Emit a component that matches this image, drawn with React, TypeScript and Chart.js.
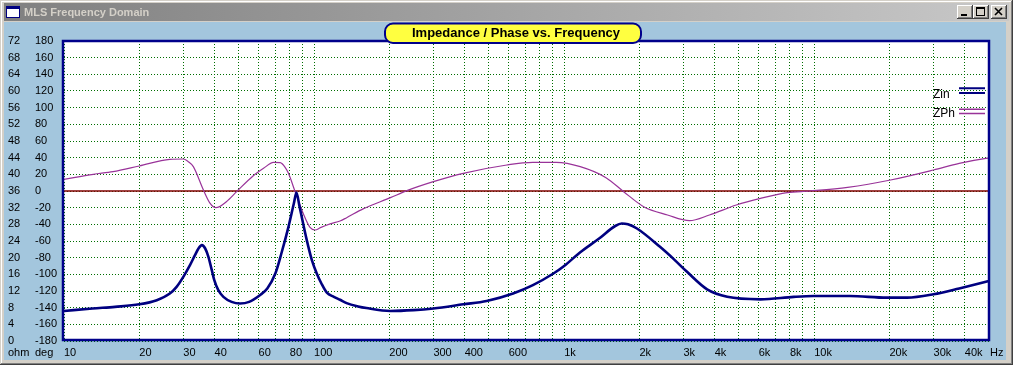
import React, { useEffect, useRef } from 'react';
import { Chart, registerables } from 'chart.js';

Chart.register(...registerables);

// ---------- data ----------
const windowTitle = 'MLS Frequency Domain';
const chartTitle = 'Impedance / Phase vs. Frequency';
const seriesNames = ['Zin', 'ZPh'];

const zinFreq = [10, 13, 16, 20, 23.5, 26.5, 28.2, 30, 31.9, 33.4, 34.5, 35.6, 36.7, 37.8, 39, 39.9, 41.4, 43.4, 46.8, 50.6, 55, 60.7, 65, 70, 74, 79, 83, 85, 87.5, 93.5, 98, 102.5, 107, 112.5, 120, 127, 135, 150, 162, 202, 250, 300, 395, 490, 625, 750, 906, 1000, 1160, 1380, 1600, 1700, 1800, 1955, 2417, 2750, 3100, 3730, 4490, 6100, 8280, 9940, 13900, 19500, 23500, 30000, 38000, 48600, 50000];
const zinOhm = [7.2, 7.8, 8.2, 8.8, 9.8, 11.4, 13.0, 15.4, 18.2, 20.6, 22.2, 23.0, 22.2, 20.2, 17.0, 14.6, 12.2, 10.6, 9.4, 9.0, 9.4, 11.0, 12.6, 16.2, 21.0, 27.4, 33.0, 35.6, 32.2, 24.2, 19.4, 16.2, 13.8, 11.6, 10.6, 9.9, 9.1, 8.3, 7.9, 7.2, 7.4, 7.8, 8.8, 9.6, 11.4, 13.4, 16.2, 18.0, 21.3, 24.6, 27.6, 28.2, 28.0, 27.0, 22.6, 19.6, 16.6, 12.4, 10.6, 10.0, 10.6, 10.8, 10.8, 10.4, 10.4, 11.2, 12.6, 14.2, 14.4];

const phFreq = [10, 13.1, 15.7, 20, 26.5, 30, 31.4, 32.9, 36.1, 38.4, 40.5, 44.6, 49, 57, 62.8, 68.8, 73.2, 76.6, 79, 84, 91, 96.3, 101, 106, 116, 127, 135, 157, 202, 235, 300, 395, 590, 750, 930, 1160, 1470, 1730, 2080, 2590, 3170, 3810, 4880, 6100, 7790, 9580, 13600, 20200, 30000, 38000, 48600, 50000];
const phDeg = [14.0, 20.0, 23.2, 30.0, 38.0, 38.4, 35.2, 29.2, 1.2, -14.8, -20.0, -12.8, -0.8, 18.0, 27.2, 34.4, 34.0, 28.4, 21.2, -0.8, -28.8, -43.6, -46.8, -44.0, -39.5, -36.0, -32.0, -21.5, -8.0, 0.4, 11.2, 21.2, 31.2, 34.4, 34.4, 29.2, 16.0, -0.8, -18.8, -28.8, -35.6, -28.8, -16.8, -8.8, -2.0, 0.0, 4.4, 13.2, 25.2, 33.2, 39.2, 39.6];

const zeroRefFreq = [10, 50000];
const zeroRefDeg = [0, 0];

const xMin = 10;
const xMax = 50000;
const xGridValues = [10, 20, 30, 40, 50, 60, 70, 80, 90, 100, 200, 300, 400, 500, 600, 700, 800, 900, 1000, 2000, 3000, 4000, 5000, 6000, 7000, 8000, 9000, 10000, 20000, 30000, 40000, 50000];
const xLabelValues = [10, 20, 30, 40, 60, 80, 100, 200, 300, 400, 600, 1000, 2000, 3000, 4000, 6000, 8000, 10000, 20000, 30000, 40000];
const xLabelTexts = ['10', '20', '30', '40', '60', '80', '100', '200', '300', '400', '600', '1k', '2k', '3k', '4k', '6k', '8k', '10k', '20k', '30k', '40k'];
const xUnit = 'Hz';

const ohmTicks = [0, 4, 8, 12, 16, 20, 24, 28, 32, 36, 40, 44, 48, 52, 56, 60, 64, 68, 72];
const degTicks = [-180, -160, -140, -120, -100, -80, -60, -40, -20, 0, 20, 40, 60, 80, 100, 120, 140, 160, 180];
const ohmUnit = 'ohm';
const degUnit = 'deg';

// ---------- styles ----------
const FONT = '"Liberation Sans", Arial, sans-serif';
const BG_BLUE = '#A3C6DD';
const GRID_GREEN = '#006E00';
const ZIN_COLOR = '#000080';
const ZPH_COLOR = '#993399';
const ZERO_COLOR = '#800000';
const FRAME_BLUE = '#00008B';

const chromePlugin = {
  id: 'chrome',
  beforeDraw(chart: any) {
    const ctx = chart.ctx;
    const W = chart.width;
    const H = chart.height;
    ctx.save();
    // window frame
    ctx.fillStyle = '#D4D0C8';
    ctx.fillRect(0, 0, W, H);
    ctx.fillStyle = '#FFFFFF';
    ctx.fillRect(1, 1, W - 2, 1);
    ctx.fillRect(1, 1, 1, H - 2);
    ctx.fillStyle = '#808080';
    ctx.fillRect(W - 2, 1, 1, H - 2);
    ctx.fillRect(1, H - 2, W - 2, 1);
    ctx.fillStyle = '#404040';
    ctx.fillRect(W - 1, 0, 1, H);
    ctx.fillRect(0, H - 1, W, 1);
    // title bar
    const g = ctx.createLinearGradient(4, 0, W - 4, 0);
    g.addColorStop(0, '#808080');
    g.addColorStop(1, '#C8C8C8');
    ctx.fillStyle = g;
    ctx.fillRect(4, 3, W - 8, 18);
    // client area
    ctx.fillStyle = BG_BLUE;
    ctx.fillRect(4, 22, W - 11, H - 27);
    // icon
    ctx.fillStyle = '#FFFFFF';
    ctx.fillRect(6, 6, 14, 12);
    ctx.fillStyle = '#000080';
    ctx.fillRect(6, 6, 14, 3);
    ctx.strokeStyle = '#000080';
    ctx.lineWidth = 1;
    ctx.strokeRect(6.5, 6.5, 13, 11);
    // window title
    ctx.fillStyle = '#D4D0C8';
    ctx.font = 'bold 11px ' + FONT;
    ctx.textBaseline = 'middle';
    ctx.textAlign = 'left';
    ctx.fillText(windowTitle, 24, 12.5);
    // buttons
    const btn = (x: number, kind: string) => {
      const y = 5, w = 16, h = 14;
      ctx.fillStyle = '#D4D0C8';
      ctx.fillRect(x, y, w, h);
      ctx.fillStyle = '#FFFFFF';
      ctx.fillRect(x, y, w - 1, 1);
      ctx.fillRect(x, y, 1, h - 1);
      ctx.fillStyle = '#404040';
      ctx.fillRect(x, y + h - 1, w, 1);
      ctx.fillRect(x + w - 1, y, 1, h);
      ctx.fillStyle = '#808080';
      ctx.fillRect(x + 1, y + h - 2, w - 2, 1);
      ctx.fillRect(x + w - 2, y + 1, 1, h - 2);
      ctx.fillStyle = '#000000';
      ctx.strokeStyle = '#000000';
      if (kind === 'min') {
        ctx.fillRect(x + 4, y + 9, 6, 2);
      } else if (kind === 'max') {
        ctx.fillRect(x + 3, y + 2, 9, 2);
        ctx.strokeRect(x + 3.5, y + 2.5, 8, 8);
      } else {
        ctx.lineWidth = 1.6;
        ctx.beginPath();
        ctx.moveTo(x + 4, y + 3);
        ctx.lineTo(x + 11, y + 10);
        ctx.moveTo(x + 11, y + 3);
        ctx.lineTo(x + 4, y + 10);
        ctx.stroke();
        ctx.lineWidth = 1;
      }
    };
    btn(957, 'min');
    btn(973, 'max');
    btn(991, 'close');
    // plot background
    const a = chart.chartArea;
    ctx.fillStyle = '#FFFFFF';
    ctx.fillRect(a.left, a.top, a.right - a.left, a.bottom - a.top);
    ctx.restore();
  },
  afterLayout(chart: any) {
    const tb = chart.titleBlock;
    if (tb) {
      const w = tb.right - tb.left;
      tb.left = 516 - w / 2;
      tb.right = 516 + w / 2;
    }
  },
  afterDatasetsDraw(chart: any) {
    const ctx = chart.ctx;
    const a = chart.chartArea;
    ctx.save();
    // plot frame
    ctx.strokeStyle = FRAME_BLUE;
    ctx.lineWidth = 2.5;
    ctx.strokeRect(a.left - 1, a.top, a.right - a.left + 1, a.bottom - a.top - 1);
    // legend (inside plot, right side)
    ctx.font = '12px ' + FONT;
    ctx.textBaseline = 'middle';
    ctx.textAlign = 'left';
    const items = [
      { ds: chart.data.datasets[0], y: 95, l1: 88.3, l2: 93, lw: 2 },
      { ds: chart.data.datasets[1], y: 114, l1: 109.2, l2: 113.5, lw: 1.5 },
    ];
    for (const it of items) {
      ctx.fillStyle = '#000000';
      ctx.fillText(it.ds.label, 933, it.y);
      ctx.strokeStyle = it.ds.borderColor;
      ctx.lineWidth = it.lw;
      ctx.beginPath();
      ctx.moveTo(959, it.l1);
      ctx.lineTo(985, it.l1);
      ctx.moveTo(959, it.l2);
      ctx.lineTo(985, it.l2);
      ctx.stroke();
    }
    ctx.restore();
  },
  afterDraw(chart: any) {
    const ctx = chart.ctx;
    const tb = chart.titleBlock;
    ctx.save();
    // title badge
    const bx = 385, by = 23.5, bw = 256, bh = 19.5, r = 8;
    ctx.beginPath();
    ctx.moveTo(bx + r, by);
    ctx.lineTo(bx + bw - r, by);
    ctx.arcTo(bx + bw, by, bx + bw, by + r, r);
    ctx.lineTo(bx + bw, by + bh - r);
    ctx.arcTo(bx + bw, by + bh, bx + bw - r, by + bh, r);
    ctx.lineTo(bx + r, by + bh);
    ctx.arcTo(bx, by + bh, bx, by + bh - r, r);
    ctx.lineTo(bx, by + r);
    ctx.arcTo(bx, by, bx + r, by, r);
    ctx.closePath();
    ctx.fillStyle = '#FFFF40';
    ctx.fill();
    ctx.strokeStyle = FRAME_BLUE;
    ctx.lineWidth = 2;
    ctx.stroke();
    ctx.restore();
    if (tb) tb.draw(chart.chartArea);
    // unit labels
    ctx.save();
    ctx.font = '11px ' + FONT;
    ctx.fillStyle = '#000000';
    ctx.textBaseline = 'middle';
    ctx.textAlign = 'left';
    ctx.fillText(ohmUnit, 8, 353);
    ctx.fillText(degUnit, 35, 353);
    ctx.fillText(xUnit, 990, 353);
    ctx.restore();
  },
};

export default function App() {
  const ref = useRef<HTMLCanvasElement | null>(null);

  useEffect(() => {
    document.body.style.margin = '0';
    const canvas = ref.current;
    if (!canvas) return;
    const tickFont = { family: FONT, size: 11 };
    const chart = new Chart(canvas, {
      type: 'line',
      data: {
        datasets: [
          {
            label: seriesNames[0],
            data: zinFreq.map((f, i) => ({ x: f, y: zinOhm[i] })),
            yAxisID: 'y',
            borderColor: ZIN_COLOR,
            borderWidth: 2.6,
            pointRadius: 0,
            cubicInterpolationMode: 'monotone',
            fill: false,
          },
          {
            label: seriesNames[1],
            data: phFreq.map((f, i) => ({ x: f, y: phDeg[i] })),
            yAxisID: 'y2',
            borderColor: ZPH_COLOR,
            borderWidth: 1.2,
            pointRadius: 0,
            cubicInterpolationMode: 'monotone',
            fill: false,
          },
          {
            label: '0°',
            data: zeroRefFreq.map((f, i) => ({ x: f, y: zeroRefDeg[i] })),
            yAxisID: 'y2',
            borderColor: ZERO_COLOR,
            borderWidth: 1.4,
            pointRadius: 0,
            fill: false,
          },
        ],
      },
      options: {
        responsive: false,
        maintainAspectRatio: false,
        animation: false,
        events: [],
        layout: { padding: { left: 8, right: 24, top: 0, bottom: 0 } },
        plugins: {
          legend: { display: false },
          tooltip: { enabled: false },
          title: {
            display: true,
            text: chartTitle,
            color: '#000000',
            font: { family: FONT, size: 13, weight: 'bold', lineHeight: '16px' },
            padding: { top: 25, bottom: 0 },
          },
        },
        scales: {
          x: {
            type: 'logarithmic',
            position: 'bottom',
            min: xMin,
            max: xMax,
            afterBuildTicks: (s: any) => {
              s.ticks = xGridValues.map((v) => ({ value: v }));
            },
            afterFit: (s: any) => {
              s.height = 24;
            },
            ticks: {
              autoSkip: false,
              maxRotation: 0,
              minRotation: 0,
              align: 'start',
              padding: 5,
              color: '#000000',
              font: tickFont,
              callback: (v: any) => {
                const i = xLabelValues.indexOf(Number(v));
                return i >= 0 ? xLabelTexts[i] : '';
              },
            },
            grid: { color: GRID_GREEN, lineWidth: 1, drawTicks: false },
            border: { display: false, dash: [1, 2] },
          },
          y: {
            type: 'linear',
            position: 'left',
            weight: 2,
            min: ohmTicks[0],
            max: ohmTicks[ohmTicks.length - 1],
            afterBuildTicks: (s: any) => {
              s.ticks = ohmTicks.map((v) => ({ value: v }));
            },
            afterFit: (s: any) => {
              s.width = 27;
            },
            ticks: { crossAlign: 'far', padding: 0, color: '#000000', font: tickFont },
            grid: { color: GRID_GREEN, lineWidth: 1, drawTicks: false },
            border: { display: false, dash: [1, 2] },
          },
          y2: {
            type: 'linear',
            position: 'left',
            weight: 1,
            min: degTicks[0],
            max: degTicks[degTicks.length - 1],
            afterBuildTicks: (s: any) => {
              s.ticks = degTicks.map((v) => ({ value: v }));
            },
            afterFit: (s: any) => {
              s.width = 29;
            },
            ticks: { crossAlign: 'far', padding: 0, color: '#000000', font: tickFont },
            grid: { display: false, drawTicks: false },
            border: { display: false },
          },
        },
      } as any,
      plugins: [chromePlugin as any],
    });
    return () => chart.destroy();
  }, []);

  return (
    <div style={{ position: 'absolute', left: 0, top: 0, width: 1013, height: 365 }}>
      <canvas ref={ref} width={1013} height={365} style={{ display: 'block', width: 1013, height: 365 }} />
    </div>
  );
}
